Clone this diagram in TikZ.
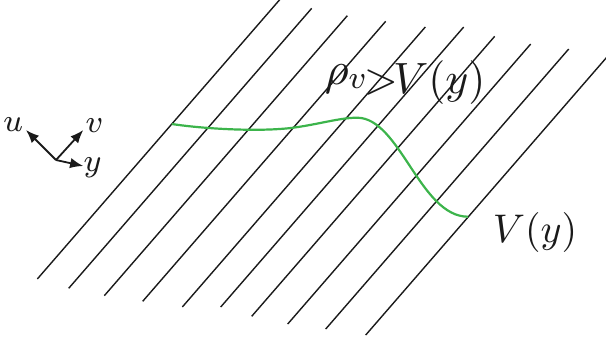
\documentclass[tikz,border=0pt]{standalone}
\usepackage{tikz}
\usepackage{graphicx}
\usetikzlibrary{arrows.meta}
\definecolor{levelInk}{HTML}{1A1A1A}
\definecolor{levelGreen}{HTML}{3CB44B}

\begin{document}
\begin{tikzpicture}[
  x=0.25pt, y=-0.25pt,
  level/.style={draw=levelInk,line width=0.35pt},
  pot/.style={draw=levelGreen,line width=0.55pt},
  axis/.style={-{Latex[length=3.3pt,width=2.6pt]},line width=0.45pt,levelInk},
  lbl/.style={inner sep=0pt,text=levelInk},
  axlbl/.style={inner sep=0pt,anchor=base,font=\footnotesize,text=levelInk}
]
  \useasboundingbox (0,0) rectangle (606,343);
  % level lines
  \foreach \bx/\by [count=\i] in {37.3/279,68.7/288.3,104.3/295.7,142.7/301.3,182.3/307,
      220.7/307,251.7/316.3,287.7/324,325.7/329,365.7/335}
    \draw[level] (\bx,\by) coordinate (b\i) -- ++(243,-280) coordinate (t\i);
  % green curve from line 1 to line 10
  \coordinate (gstart) at (171.8,124);
  \coordinate (gpeak) at (357,117.7);
  \coordinate (gend) at (468,216.7);
  \draw[pot] (gstart) .. controls (205,129) and (260,132) .. (293.3,127.7)
    .. controls (320,124) and (340,117.7) .. (gpeak)
    .. controls (400,117.7) and (420,216.7) .. (gend);
  \node[lbl,anchor=base west,font=\fontsize{11}{13}\selectfont] (rho) at (324,93)
    {\raisebox{2.2pt}{\scalebox{1.05}{$\rho$}}\raisebox{1.2pt}{\footnotesize$v$}$\mkern-1mu{>}\mkern-2mu V(y)$};
  \node[lbl,anchor=base west] (vy) at (492,242) {$V(y)$};
  % axes
  \coordinate (orig) at (56,160);
  \coordinate (utip) at (26,130);
  \coordinate (vtip) at (83.3,130);
  \coordinate (ytip) at (83.3,166);
  \draw[axis] (orig) -- (utip);
  \draw[axis] (orig) -- (vtip);
  \draw[axis] (orig) -- (ytip);
  \node[axlbl] (ulab) at (13.3,131.7) {$u$};
  \node[axlbl] (vlab) at (94.5,132.5) {$v$};
  \node[axlbl] (ylab) at (92.5,171) {$y$};
\end{tikzpicture}
\end{document}
